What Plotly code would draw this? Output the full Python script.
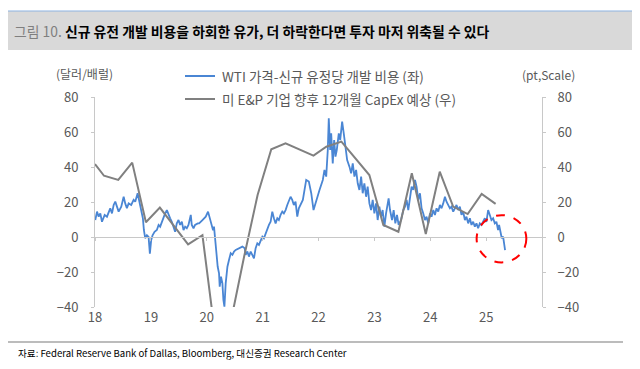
import plotly.graph_objects as go

# ---------------- data ----------------
# WTI price minus new-well breakeven cost (USD/bbl), left axis
wti_year = [
 2018.005,2018.036,2018.066,2018.095,2018.125,2018.173,2018.214,2018.245,2018.273,2018.304,
 2018.334,2018.363,2018.393,2018.423,2018.470,2018.513,2018.541,2018.571,2018.602,2018.648,
 2018.691,2018.720,2018.763,2018.791,2018.827,2018.857,2018.875,2018.898,2018.929,2018.959,
 2018.982,2019.005,2019.030,2019.066,2019.107,2019.138,2019.166,2019.196,2019.245,2019.286,
 2019.316,2019.345,2019.375,2019.405,2019.434,2019.464,2019.495,2019.523,2019.554,2019.584,
 2019.613,2019.643,2019.673,2019.714,2019.732,2019.763,2019.791,2019.839,2019.863,2019.923,
 2019.982,2020.023,2020.054,2020.089,2020.113,2020.130,2020.148,2020.173,2020.196,2020.220,
 2020.232,2020.255,2020.280,2020.298,2020.316,2020.339,2020.370,2020.398,2020.429,2020.459,
 2020.488,2020.518,2020.577,2020.638,2020.679,2020.696,2020.727,2020.755,2020.786,2020.816,
 2020.845,2020.875,2020.905,2020.934,2020.964,2020.995,2021.023,2021.054,2021.084,2021.113,
 2021.143,2021.173,2021.202,2021.232,2021.263,2021.291,2021.321,2021.352,2021.380,2021.411,
 2021.441,2021.470,2021.500,2021.530,2021.559,2021.589,2021.620,2021.648,2021.661,2021.720,
 2021.750,2021.780,2021.827,2021.870,2021.911,2021.959,2022.018,2022.077,2022.107,2022.138,
 2022.166,2022.184,2022.209,2022.227,2022.255,2022.280,2022.304,2022.327,2022.363,2022.388,
 2022.423,2022.452,2022.482,2022.513,2022.554,2022.584,2022.613,2022.643,2022.673,2022.702,
 2022.732,2022.763,2022.791,2022.821,2022.852,2022.880,2022.911,2022.941,2022.970,2023.000,
 2023.030,2023.059,2023.089,2023.120,2023.148,2023.179,2023.209,2023.255,2023.280,2023.316,
 2023.345,2023.375,2023.405,2023.434,2023.477,2023.518,2023.548,2023.577,2023.607,2023.638,
 2023.666,2023.696,2023.727,2023.755,2023.786,2023.816,2023.845,2023.875,2023.905,2023.934,
 2023.964,2023.995,2024.023,2024.054,2024.084,2024.113,2024.143,2024.173,2024.202,2024.232,
 2024.263,2024.291,2024.321,2024.352,2024.380,2024.411,2024.441,2024.470,2024.500,2024.530,
 2024.559,2024.589,2024.620,2024.648,2024.679,2024.709,2024.738,2024.768,2024.798,2024.827,
 2024.857,2024.887,2024.916,2024.946,2024.977,2025.005,2025.036,2025.066,2025.095,2025.125,
 2025.155,2025.184,2025.214,2025.232,2025.255,2025.280,2025.304,2025.321,2025.339,
]
wti_spread = [
 9.7,14.5,11.6,13.5,8.7,12.6,11.6,14.5,16.4,13.5,
 18.3,20.2,17.3,14.5,17.3,23.0,19.2,16.4,19.2,18.3,
 21.2,20.2,25.0,21.2,16.4,10.7,4.0,-0.7,1.0,0.0,
 -9.5,-1.9,1.0,3.0,4.0,6.9,5.9,8.7,12.6,15.4,
 13.5,10.7,8.7,5.0,3.0,7.8,9.7,6.9,8.7,4.0,
 5.9,5.0,6.9,12.6,6.9,5.0,6.9,7.8,7.8,9.7,
 11.6,14.5,10.7,5.9,3.8,5.9,-1.7,-9.3,-17.0,-20.8,
 -28.4,-22.7,-26.5,-36.0,-39.8,-26.5,-17.0,-13.1,-9.3,-10.2,
 -8.3,-7.4,-6.4,-5.5,-6.4,-10.2,-8.3,-11.2,-8.3,-10.2,
 -12.2,-6.4,-3.6,-4.5,-1.7,0.2,-0.8,2.1,4.0,6.9,
 8.7,14.5,10.7,7.8,10.7,9.7,12.6,14.5,13.5,15.4,
 18.3,21.2,23.0,21.2,18.3,20.2,11.6,16.4,17.3,21.2,
 26.9,32.6,31.7,25.0,15.4,21.2,26.9,32.6,38.3,34.5,
 49.7,67.8,49.7,59.2,42.0,55.4,45.9,49.7,59.2,55.4,
 65.9,59.2,49.7,44.0,40.2,36.4,42.1,34.5,38.3,30.7,
 26.9,34.5,25.0,30.7,23.0,28.8,19.2,15.4,21.2,13.5,
 19.2,9.7,17.3,11.6,15.4,5.9,13.5,22.1,15.4,9.7,
 15.4,7.8,12.6,6.9,9.7,15.4,17.3,21.2,15.4,23.0,
 28.8,26.9,32.6,28.8,21.2,25.0,16.4,13.5,9.7,11.6,
 7.8,13.5,11.6,15.4,12.6,16.4,14.5,18.3,16.4,19.2,
 23.0,20.2,18.3,16.4,17.3,14.5,16.4,18.3,15.4,17.3,
 12.6,14.5,9.7,11.6,7.8,10.7,6.9,8.7,5.9,7.8,
 5.0,7.8,6.9,8.7,10.7,8.7,15.4,12.6,9.7,10.7,
 7.8,8.7,4.0,6.9,3.0,-0.7,0.2,-4.5,-7.5,
]

# US E&P firms' 12-month-ahead CapEx expectation index (pt), right axis
capex_year = [
 2018.000,2018.161,2018.416,2018.666,2018.911,2019.161,2019.666,2019.923,
 2020.170,2020.420,2020.670,2020.910,2021.155,2021.410,2021.910,2022.140,
 2022.410,2022.910,2023.160,2023.430,2023.670,2023.920,2024.170,2024.410,
 2024.670,2024.920,2025.170,
]
capex_index = [
 41.7,35.0,32.6,42.5,8.4,16.8,-4.2,1.0,
 -61.0,-50.0,-11.0,24.0,50.1,53.5,46.5,51.6,
 54.5,35.4,6.9,3.0,36.4,1.7,37.3,17.4,
 13.1,24.6,18.9,
]

year_ticks = [2018, 2019, 2020, 2021, 2022, 2023, 2024, 2025]
year_labels = ["18", "19", "20", "21", "22", "23", "24", "25"]
y_ticks = [-40, -20, 0, 20, 40, 60, 80]

name_wti = "WTI 가격-신규 유정당 개발 비용 (좌)"
name_capex = "미 E&P 기업 향후 12개월 CapEx 예상 (우)"

# ---------------- figure ----------------
KR = "Noto Sans CJK KR"
TICK_COLOR = "#595959"
AXIS_COLOR = "#c8c8c8"
BLUE = "#4A86D4"
GRAY = "#808080"

fig = go.Figure()
fig.add_trace(go.Scatter(
    x=wti_year, y=wti_spread, mode="lines", name=name_wti,
    line=dict(color=BLUE, width=1.8),
))
fig.add_trace(go.Scatter(
    x=capex_year, y=capex_index, mode="lines", name=name_capex,
    line=dict(color=GRAY, width=2), yaxis="y2",
))
# empty trace so xaxis2 (zero line with ticks) is drawn
fig.add_trace(go.Scatter(x=[None], y=[None], xaxis="x2", showlegend=False, hoverinfo="skip"))

# page body has an 8px margin: the figure starts at page (8, 8)
OFF = 8
PAGE_W, PAGE_H = 640, 369
PLOT_L, PLOT_R, PLOT_T, PLOT_B = 95, 542, 97, 307   # plot area in page pixels
W, H = PAGE_W - OFF, PAGE_H - OFF
L, T = PLOT_L - OFF, PLOT_T - OFF
R, B = PAGE_W - PLOT_R, PAGE_H - PLOT_B
pw, ph = PLOT_R - PLOT_L, PLOT_B - PLOT_T


def px(x):  # page x pixel -> paper
    return (x - PLOT_L) / pw


def py(y):  # page y pixel -> paper
    return (PLOT_B - y) / ph


fig.update_layout(
    width=W, height=H,
    margin=dict(l=L, r=R, t=T, b=B, pad=0, autoexpand=False),
    paper_bgcolor="white", plot_bgcolor="white",
    font=dict(family=KR, size=13, color=TICK_COLOR),
    showlegend=False,
    xaxis=dict(
        range=[2018, 2026], tickvals=year_ticks, ticktext=year_labels,
        showgrid=False, zeroline=False, showline=False, ticks="",
        ticklabelstandoff=1,
        tickfont=dict(family=KR, size=13, color=TICK_COLOR),
    ),
    xaxis2=dict(
        range=[2018, 2026], overlaying="x", anchor="free", position=py(236.5),
        tickvals=year_ticks, showticklabels=False, showgrid=False, zeroline=False,
        showline=True, linecolor=AXIS_COLOR, linewidth=1,
        ticks="outside", ticklen=3, tickcolor=AXIS_COLOR,
    ),
    yaxis=dict(
        range=[-40, 80], tickvals=y_ticks, showgrid=False, zeroline=False,
        showline=True, linecolor=AXIS_COLOR, linewidth=1,
        ticks="outside", ticklen=3, tickcolor=AXIS_COLOR,
        ticklabelstandoff=10,
        tickfont=dict(family=KR, size=13, color=TICK_COLOR),
    ),
    yaxis2=dict(
        range=[-40, 80], tickvals=y_ticks, overlaying="y", side="right",
        showgrid=False, zeroline=False,
        showline=True, linecolor=AXIS_COLOR, linewidth=1,
        ticks="outside", ticklen=3, tickcolor=AXIS_COLOR,
        ticklabelstandoff=9,
        tickfont=dict(family=KR, size=13, color=TICK_COLOR),
    ),
)

shapes = [
    # title band
    dict(type="rect", xref="paper", yref="paper", x0=px(8), x1=px(632), y0=py(50), y1=py(11),
         fillcolor="#d9d9d9", line=dict(width=0), layer="below"),
    dict(type="line", xref="paper", yref="paper", x0=px(8), x1=px(632), y0=py(11), y1=py(11),
         line=dict(color="#8db4e2", width=1.2)),
    # footer rule
    dict(type="line", xref="paper", yref="paper", x0=px(8), x1=px(623), y0=py(342), y1=py(342),
         line=dict(color="#a6a6a6", width=1.5)),
    # legend samples
    dict(type="line", xref="paper", yref="paper", x0=px(185), x1=px(215), y0=py(76), y1=py(76),
         line=dict(color=BLUE, width=2)),
    dict(type="line", xref="paper", yref="paper", x0=px(185), x1=px(215), y0=py(99), y1=py(99),
         line=dict(color=GRAY, width=2)),
    # red dashed highlight circle
    dict(type="circle", xref="x", yref="y", x0=2024.83, x1=2025.72, y0=-14.5, y1=12.5,
         line=dict(color="#ff0000", width=2, dash="dash")),
]
fig.update_layout(shapes=shapes)

annotations = [
    dict(text="<span style='color:#7f7f7f'>그림 10.</span><b> 신규 유전 개발 비용을 하회한 유가, 더 하락한다면 투자 마저 위축될 수 있다</b>",
         xref="paper", yref="paper", x=px(12), y=py(31), xanchor="left", yanchor="middle",
         showarrow=False, font=dict(family=KR, size=13.85, color="#000000")),
    dict(text="(달러/배럴)", xref="paper", yref="paper", x=px(54), y=py(74),
         xanchor="left", yanchor="middle", showarrow=False,
         font=dict(family=KR, size=12, color=TICK_COLOR)),
    dict(text="(pt,Scale)", xref="paper", yref="paper", x=px(520), y=py(75),
         xanchor="left", yanchor="middle", showarrow=False,
         font=dict(family=KR, size=12, color=TICK_COLOR)),
    dict(text=name_wti, xref="paper", yref="paper", x=px(220), y=py(76),
         xanchor="left", yanchor="middle", showarrow=False,
         font=dict(family=KR, size=13.5, color=TICK_COLOR)),
    dict(text=name_capex, xref="paper", yref="paper", x=px(220), y=py(99),
         xanchor="left", yanchor="middle", showarrow=False,
         font=dict(family=KR, size=13.5, color=TICK_COLOR)),
    dict(text="자료: Federal Reserve Bank of Dallas, Bloomberg, 대신증권 Research Center",
         xref="paper", yref="paper", x=px(16), y=py(353), xanchor="left", yanchor="middle",
         showarrow=False,
         font=dict(family=KR, size=9.6, color="#000000")),
]
fig.update_layout(annotations=annotations)

fig.write_html("out.html")
